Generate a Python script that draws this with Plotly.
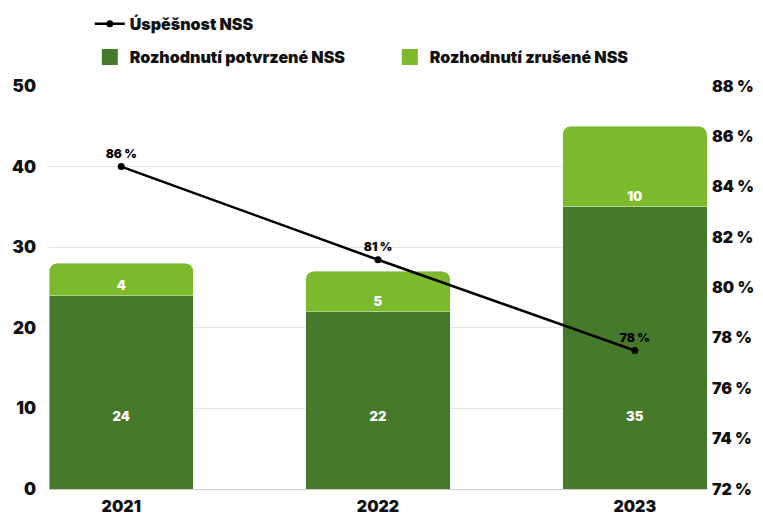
import plotly.graph_objects as go

# ---- data ----
YEARS = ["2021", "2022", "2023"]
CONFIRMED = [24, 22, 35]          # Rozhodnutí potvrzené NSS
CANCELLED = [4, 5, 10]            # Rozhodnutí zrušené NSS
SUCCESS = [84.8, 81.1, 77.5]      # Úspěšnost NSS (position)
SUCCESS_LABELS = ["86 %", "81 %", "78 %"]

NAME_LINE = "Úspěšnost NSS"
NAME_CONF = "Rozhodnutí potvrzené NSS"
NAME_CANC = "Rozhodnutí zrušené NSS"

# ---- style ----
DARK = "#457a2b"
LIGHT = "#7cb92c"
FONT = "Inter"
W = 900
TXT = "#111111"
DARK_LABEL_Y = 8.8

fig = go.Figure()

fig.add_trace(go.Bar(
    x=YEARS, y=CONFIRMED, name=NAME_CONF, marker_color=DARK,
    showlegend=False, hoverinfo="skip",
))
fig.add_trace(go.Bar(
    x=YEARS, y=CANCELLED, name=NAME_CANC, marker_color=LIGHT,
    text=[str(v) for v in CANCELLED], textposition="inside",
    insidetextanchor="start",
    textfont=dict(color="white", size=13, family=FONT, weight=W),
    showlegend=False,
))
# labels of confirmed values
fig.add_trace(go.Scatter(
    x=YEARS, y=[DARK_LABEL_Y] * len(YEARS), mode="text",
    text=[str(v) for v in CONFIRMED],
    textfont=dict(color="white", size=13, family=FONT, weight=W),
    showlegend=False, hoverinfo="skip",
))
# success line on secondary axis
fig.add_trace(go.Scatter(
    x=YEARS, y=SUCCESS, name=NAME_LINE, mode="lines+markers+text",
    yaxis="y2", line=dict(color="black", width=2.5),
    marker=dict(color="black", size=7),
    text=SUCCESS_LABELS, textposition="top center",
    textfont=dict(color="black", size=12, family=FONT, weight=W),
    legend="legend",
))
# legend entries for bars
fig.add_trace(go.Scatter(
    x=[None], y=[None], mode="markers", name=NAME_CONF,
    marker=dict(symbol="square", size=16, color=DARK), legend="legend2",
))
fig.add_trace(go.Scatter(
    x=[None], y=[None], mode="markers", name=NAME_CANC,
    marker=dict(symbol="square", size=16, color=LIGHT), legend="legend2",
))

fig.update_layout(
    width=763, height=515,
    margin=dict(l=41, r=64, t=78, b=34, autoexpand=False),
    paper_bgcolor="white", plot_bgcolor="white",
    barmode="stack", bargap=0.4375, barcornerradius=8,
    font=dict(family=FONT, color=TXT, size=15, weight=W),
    xaxis=dict(
        type="category", range=[-0.28125, 2.28125],
        showgrid=False, showline=False, ticks="",
        tickfont=dict(size=16, family=FONT, weight=W, color=TXT),
        ticklabelstandoff=6,
    ),
    yaxis=dict(
        range=[0, 50], dtick=10, showgrid=True, gridcolor="#e6e6e6",
        zeroline=True, zerolinecolor="#cccccc", zerolinewidth=1,
        ticks="", ticklabelstandoff=12,
        tickfont=dict(size=17, family=FONT, weight=W, color=TXT),
    ),
    yaxis2=dict(
        overlaying="y", side="right", range=[72, 88], dtick=2,
        ticksuffix=" %", showgrid=False, zeroline=False, ticks="",
        ticklabelstandoff=4,
        tickfont=dict(size=16, family=FONT, weight=W, color=TXT),
    ),
    legend=dict(
        x=0.062, xanchor="left", y=1.154, yanchor="middle",
        orientation="h", bgcolor="rgba(0,0,0,0)",
        font=dict(size=16, family=FONT, weight=W, color=TXT),
    ),
    legend2=dict(
        x=0.062, xanchor="left", y=1.072, yanchor="middle",
        orientation="h", bgcolor="rgba(0,0,0,0)",
        entrywidth=255, entrywidthmode="pixels",
        font=dict(size=16, family=FONT, weight=W, color=TXT),
    ),
)

fig.write_html("out.html")
